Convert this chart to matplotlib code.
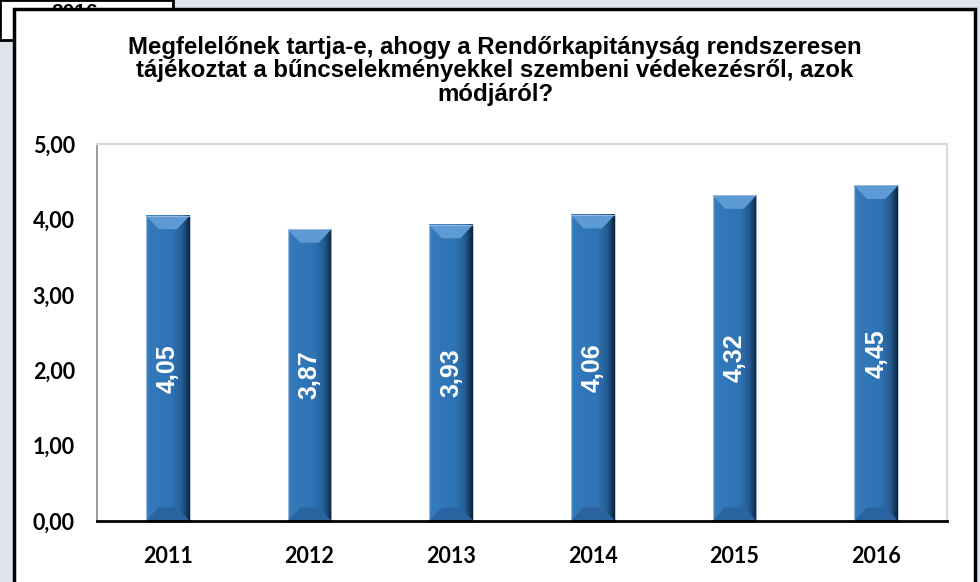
import matplotlib.pyplot as plt
import numpy as np
from matplotlib.patches import Rectangle, Polygon
from matplotlib.colors import LinearSegmentedColormap

years = ['2011', '2012', '2013', '2014', '2015', '2016']
values = [4.05, 3.87, 3.93, 4.06, 4.32, 4.45]
labels = ['4,05', '3,87', '3,93', '4,06', '4,32', '4,45']
yticks = [0, 1, 2, 3, 4, 5]
ytick_labels = ['0,00', '1,00', '2,00', '3,00', '4,00', '5,00']
title = ('Megfelelőnek tartja-e, ahogy a Rendőrkapitányság rendszeresen\n'
         'tájékoztat a bűncselekményekkel szembeni védekezésről, azok\n'
         'módjáról?')

W, H = 980, 582
fig = plt.figure(figsize=(W / 100, H / 100), dpi=100)
fig.patch.set_facecolor('#dfe4ec')

# piece of another slide element peeking out at the top left
fig.patches.append(Rectangle((0, 1 - 40 / H), 173 / W, 40 / H, transform=fig.transFigure,
                             facecolor='white', edgecolor='black', linewidth=2, zorder=0.5))
fig.text(75 / W, 1 - 13 / H, '2016', ha='center', va='center', fontsize=15,
         fontweight='bold', family='Liberation Sans', zorder=0.6)

# chart frame
fig.patches.append(Rectangle((14 / W, -0.05), (975 - 14) / W, 1.05 - 9 / H,
                             transform=fig.transFigure, facecolor='white',
                             edgecolor='black', linewidth=2.5, zorder=1))

ax = fig.add_axes([97 / W, 1 - 521 / H, (947 - 97) / W, (521 - 144) / H], zorder=3)
ax.set_facecolor('white')

x = np.arange(len(years))
bw = 0.31
bars = ax.bar(x, values, width=bw, color='#2e75b6', zorder=2)

cmap = LinearSegmentedColormap.from_list('bar', [
    (0.0, '#4d8cc8'), (0.06, '#3479bb'), (0.6, '#2e73b4'),
    (0.82, '#255d94'), (0.93, '#173c63'), (1.0, '#0e243d')])
grad = np.linspace(0, 1, 64).reshape(1, -1)
bev_x = 0.09
bev_y = 0.18
for b in bars:
    x0, w, h = b.get_x(), b.get_width(), b.get_height()
    ax.imshow(grad, cmap=cmap, extent=(x0, x0 + w, 0, h), aspect='auto', zorder=3)
    ax.add_patch(Polygon([(x0, h), (x0 + w, h), (x0 + w - bev_x, h - bev_y),
                          (x0 + bev_x, h - bev_y)],
                         closed=True, facecolor='#5d9ad6', edgecolor='none', zorder=4))
    ax.add_patch(Polygon([(x0, 0), (x0 + w, 0), (x0 + w - bev_x, bev_y),
                          (x0 + bev_x, bev_y)],
                         closed=True, facecolor='#2a64a0', edgecolor='none', zorder=4))
    ax.add_patch(Rectangle((x0, 0), w, h, facecolor='none', edgecolor='#a9c0da',
                           linewidth=0.6, zorder=5))

for xi, v, lab in zip(x, values, labels):
    ax.text(xi, v / 2, lab, rotation=90, ha='center', va='center', color='white',
            fontsize=18, fontweight='bold', family='Liberation Sans', zorder=6)

ax.set_xlim(-0.5, len(years) - 0.5)
ax.set_ylim(0, 5)
ax.set_yticks(yticks)
ax.set_yticklabels(ytick_labels)
ax.set_xticks(x)
ax.set_xticklabels(years)
for lab in ax.get_xticklabels() + ax.get_yticklabels():
    lab.set_fontfamily('Lato')
    lab.set_fontweight('bold')
    lab.set_fontsize(15.5)
ax.tick_params(axis='both', length=0)
ax.tick_params(axis='x', pad=18)
ax.tick_params(axis='y', pad=16)

ax.spines['left'].set_color('#8c8c8c')
ax.spines['left'].set_linewidth(1.2)
ax.spines['bottom'].set_color('black')
ax.spines['bottom'].set_linewidth(2)
ax.spines['bottom'].set_zorder(7)
for s in ['top', 'right']:
    ax.spines[s].set_color('#d9d9d9')
    ax.spines[s].set_linewidth(1.5)

fig.text(495 / W, 1 - 71 / H, title, ha='center', va='center', fontsize=17.3,
         fontweight='bold', family='Liberation Sans', linespacing=1.04, zorder=4)

fig.savefig('out.png', dpi=100, facecolor=fig.get_facecolor())
